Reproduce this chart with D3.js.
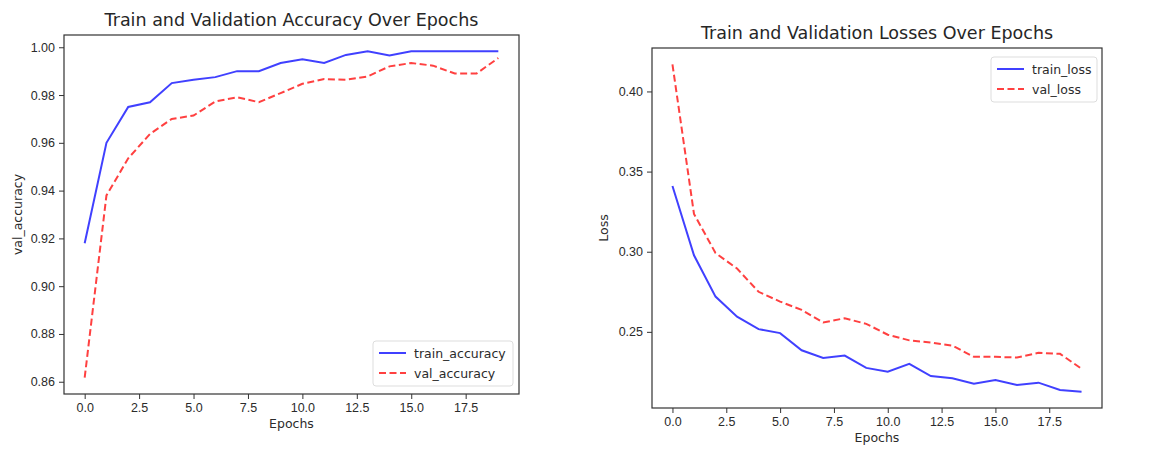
<!DOCTYPE html>
<html>
<head>
<meta charset="utf-8">
<script src="https://cdn.jsdelivr.net/npm/d3@7"></script>
<style>
  body { margin: 0; background: #fff; }
  svg { display: block; font-family: "DejaVu Sans", sans-serif; }
  .tick text { fill: #2b2b2b; font-size: 12.5px; }
  .tick line { stroke: #333; }
</style>
</head>
<body>
<svg id="chart" width="1166" height="454"></svg>
<script>
// epochs 0..19
var epochs = [0,1,2,3,4,5,6,7,8,9,10,11,12,13,14,15,16,17,18,19];

var trainAcc = [0.918, 0.960, 0.975, 0.977, 0.985, 0.9864, 0.9875, 0.990, 0.990, 0.9934,
                0.995, 0.9934, 0.9968, 0.9983, 0.9966, 0.9983, 0.9983, 0.9983, 0.9983, 0.9983];
var valAcc = [0.8617, 0.938, 0.9535, 0.9637, 0.970, 0.9714, 0.9773, 0.9791, 0.977, 0.9808,
              0.9847, 0.9867, 0.9864, 0.9878, 0.992, 0.9934, 0.9923, 0.989, 0.989, 0.9955];

var trainLoss = [0.341, 0.2978, 0.272, 0.2595, 0.2517, 0.2492, 0.2385, 0.2337, 0.2352, 0.2275,
                 0.2251, 0.230, 0.2224, 0.221, 0.2177, 0.220, 0.2168, 0.2183, 0.2137, 0.2127];
var valLoss = [0.4169, 0.3236, 0.2992, 0.2895, 0.275, 0.2689, 0.2637, 0.2558, 0.2585, 0.255,
               0.2482, 0.2447, 0.2434, 0.2414, 0.2344, 0.2344, 0.234, 0.2369, 0.2363, 0.227];

var xTicks = [0, 2.5, 5, 7.5, 10, 12.5, 15, 17.5];
var accTicks = [0.86, 0.88, 0.90, 0.92, 0.94, 0.96, 0.98, 1.00];
var lossTicks = [0.25, 0.30, 0.35, 0.40];

var svg = d3.select('#chart');

function padded(arr) {
  var ext = d3.extent(arr);
  var p = (ext[1] - ext[0]) * 0.05;
  return [ext[0] - p, ext[1] + p];
}

function drawPanel(opt) {
  var g = svg.append('g').attr('transform', 'translate(' + opt.left + ',' + opt.top + ')');
  var w = opt.width, h = opt.height;

  var x = d3.scaleLinear().domain(padded(epochs)).range([0, w]);
  var y = d3.scaleLinear().domain(padded(opt.series[0].values.concat(opt.series[1].values))).range([h, 0]);

  var xAxis = g.append('g')
    .attr('transform', 'translate(0,' + h + ')')
    .call(d3.axisBottom(x).tickValues(xTicks).tickSize(5).tickPadding(4).tickFormat(d3.format('.1f')));
  xAxis.select('.domain').remove();

  var yAxis = g.append('g')
    .call(d3.axisLeft(y).tickValues(opt.yTicks).tickSize(5).tickPadding(4).tickFormat(d3.format('.2f')));
  yAxis.select('.domain').remove();

  var line = d3.line()
    .x(function(d, i) { return x(epochs[i]); })
    .y(function(d) { return y(d); });

  opt.series.forEach(function(s) {
    g.append('path')
      .datum(s.values)
      .attr('fill', 'none')
      .attr('stroke', s.color)
      .attr('stroke-opacity', 0.75)
      .attr('stroke-width', 2)
      .attr('stroke-dasharray', s.dash ? '7,3.5' : null)
      .attr('d', line);
  });

  // frame
  g.append('rect')
    .attr('width', w).attr('height', h)
    .attr('fill', 'none').attr('stroke', '#333').attr('stroke-width', 1.2);

  g.append('text')
    .attr('x', w / 2).attr('y', -9)
    .attr('text-anchor', 'middle')
    .attr('fill', '#262626')
    .style('font-size', '17.5px')
    .text(opt.title);

  g.append('text')
    .attr('x', w / 2).attr('y', h + 34)
    .attr('text-anchor', 'middle')
    .attr('fill', '#2b2b2b')
    .style('font-size', '12.5px')
    .text('Epochs');

  g.append('text')
    .attr('transform', 'translate(' + opt.ylabelX + ',' + (h / 2) + ') rotate(-90)')
    .attr('text-anchor', 'middle')
    .attr('fill', '#2b2b2b')
    .style('font-size', '12.5px')
    .text(opt.ylabel);

  // legend
  var lg = g.append('g').attr('transform', 'translate(' + opt.legend[0] + ',' + opt.legend[1] + ')');
  lg.append('rect')
    .attr('width', opt.legendW).attr('height', 45)
    .attr('rx', 3)
    .attr('fill', '#fff').attr('fill-opacity', 0.8)
    .attr('stroke', '#ddd');
  opt.series.forEach(function(s, i) {
    var yy = 12 + i * 20;
    lg.append('line')
      .attr('x1', 6).attr('x2', 33).attr('y1', yy).attr('y2', yy)
      .attr('stroke', s.color).attr('stroke-opacity', 0.75).attr('stroke-width', 2)
      .attr('stroke-dasharray', s.dash ? '7,3.5' : null);
    lg.append('text')
      .attr('x', 41).attr('y', yy + 4.5)
      .attr('fill', '#2b2b2b')
      .style('font-size', '12.5px')
      .text(s.name);
  });
}

drawPanel({
  left: 64, top: 35, width: 455, height: 359,
  title: 'Train and Validation Accuracy Over Epochs',
  ylabel: 'val_accuracy', ylabelX: -42.5,
  yTicks: accTicks,
  legend: [309, 306], legendW: 140,
  series: [
    { name: 'train_accuracy', values: trainAcc, color: 'blue', dash: false },
    { name: 'val_accuracy', values: valAcc, color: 'red', dash: true }
  ]
});

drawPanel({
  left: 652, top: 48, width: 450, height: 360,
  title: 'Train and Validation Losses Over Epochs',
  ylabel: 'Loss', ylabelX: -44.5,
  yTicks: lossTicks,
  legend: [339, 9], legendW: 106,
  series: [
    { name: 'train_loss', values: trainLoss, color: 'blue', dash: false },
    { name: 'val_loss', values: valLoss, color: 'red', dash: true }
  ]
});
</script>
</body>
</html>
